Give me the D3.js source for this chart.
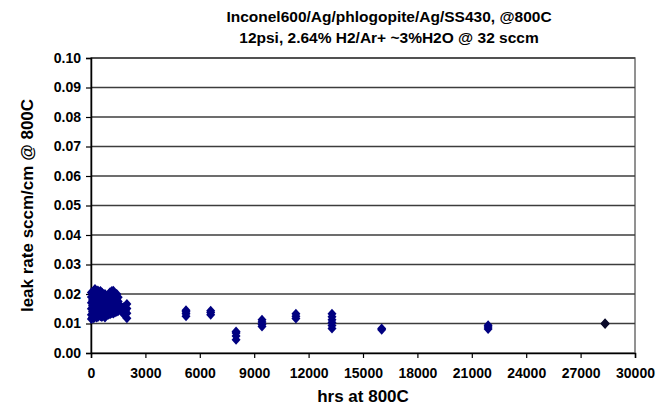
<!DOCTYPE html>
<html>
<head>
<meta charset="utf-8">
<script src="https://cdn.jsdelivr.net/npm/d3@7"></script>
<style>
  body { margin: 0; background: #fff; }
  text { font-family: "Liberation Sans", Arial, sans-serif; font-weight: bold; }
</style>
</head>
<body>
<div id="chart"></div>
<script>
// hours at 800C and leak rate readings (sccm/cm)
var hrsEarly = [20,20,20,20,20,20, 80,80,80,80,80, 150,150,150,150,150,150, 220,220,220,220,220,
  300,300,300,300,300, 380,380,380,380,380,380, 450,450,450,450, 520,520,520,520,520,
  600,600,600,600,600, 680,680,680,680, 770,770,770,770,770, 860,860,860,860, 950,950,950,950,
  1050,1050,1050,1050,1050, 1150,1150,1150,1150,1150, 1230,1230,1230,1230,1230, 1320,1320,1320,1320,
  1420,1420,1420,1420, 1500,1500,1500,1500, 1600,1600, 1700,1700, 1800,1800,1800, 1900,1900,
  1980,1980,1980,1980];
var rateEarly = [0.0115,0.013,0.015,0.017,0.019,0.0205, 0.012,0.014,0.016,0.018,0.020,
  0.0118,0.0135,0.0155,0.0175,0.0195,0.021, 0.0125,0.0145,0.0165,0.0185,0.0217,
  0.012,0.014,0.016,0.018,0.0205, 0.0122,0.0138,0.0158,0.0178,0.0198,0.0212, 0.013,0.015,0.017,0.019,
  0.0125,0.0145,0.0168,0.0188,0.021, 0.0122,0.014,0.016,0.0182,0.0205, 0.013,0.015,0.017,0.0195,
  0.012,0.014,0.016,0.018,0.020, 0.0128,0.0148,0.0168,0.0185, 0.013,0.015,0.017,0.019,
  0.0131,0.015,0.017,0.019,0.0206, 0.0135,0.0155,0.0175,0.0195,0.021, 0.0134,0.0152,0.017,0.019,0.0211,
  0.0137,0.0157,0.0178,0.0198, 0.014,0.016,0.018,0.020, 0.0142,0.016,0.0175,0.0189, 0.0148,0.016,
  0.0148,0.0155, 0.0131,0.0142,0.0155, 0.0131,0.0143, 0.0118,0.0135,0.0151,0.0166];

var hrsLater = [5240,5240,5240,5240, 6600,6600,6600, 8000,8000,8000,8000, 9430,9430,9430,9430,
  11300,11300,11300, 13290,13290,13290,13290,13290,13290, 16030,16030, 21900,21900,21900];
var rateLater = [0.0125,0.0133,0.014,0.0145, 0.013,0.0137,0.0143, 0.0045,0.0058,0.0068,0.0073,
  0.009,0.0097,0.0105,0.0113, 0.0117,0.0125,0.0133, 0.0083,0.0093,0.0103,0.0113,0.0123,0.0133,
  0.0079,0.0083, 0.0081,0.0088,0.0094];

var hrsLast = [28350, 28350];
var rateLast = [0.0098, 0.0101];

var xTicks = d3.range(0, 30001, 3000);
var yTicks = d3.range(0, 0.1001, 0.01);

var margin = {top: 58, right: 24, bottom: 53, left: 91};
var width = 659 - margin.left - margin.right;
var height = 406 - margin.top - margin.bottom;

var svg = d3.select("#chart").append("svg")
  .attr("width", 659).attr("height", 406);

var g = svg.append("g")
  .attr("transform", "translate(" + margin.left + "," + margin.top + ")");

var x = d3.scaleLinear().domain([0, 30000]).range([0, width]);
var y = d3.scaleLinear().domain([0, 0.1]).range([height, 0]);

//plot area border
g.append("rect")
  .attr("width", width).attr("height", height)
  .attr("fill", "#fff").attr("stroke", "#6e6e6e").attr("stroke-width", 1.5);

//gridlines
g.append("g").selectAll("line")
  .data(yTicks.slice(1))
  .enter().append("line")
  .attr("x1", 0).attr("x2", width)
  .attr("y1", function(d){ return y(d); })
  .attr("y2", function(d){ return y(d); })
  .attr("stroke", "#3c3c3c").attr("stroke-width", 1.5);

//axes
var xAxis = g.append("g")
  .attr("transform", "translate(0," + height + ")")
  .call(d3.axisBottom(x).tickValues(xTicks).tickSize(5).tickPadding(10).tickFormat(d3.format("d")));
var yAxis = g.append("g")
  .call(d3.axisLeft(y).tickValues(yTicks).tickSize(5).tickPadding(5).tickFormat(d3.format(".2f")));

[xAxis, yAxis].forEach(function(a){
  a.select(".domain").attr("stroke", "#000").attr("stroke-width", 1.5);
  a.selectAll(".tick line").attr("stroke", "#000").attr("stroke-width", 1.2);
  a.selectAll("text").attr("fill", "#000")
    .style("font-size", "14px").style("font-family", "'Liberation Sans', Arial, sans-serif").style("font-weight", "bold");
});

//diamond marker
function diamond(cx, cy) {
  return "M" + cx + "," + (cy - 5) + "L" + (cx + 4.5) + "," + cy +
    "L" + cx + "," + (cy + 5) + "L" + (cx - 4.5) + "," + cy + "Z";
}

var series = [
  {hrs: hrsEarly, rate: rateEarly, color: "#000080"},
  {hrs: hrsLater, rate: rateLater, color: "#000080"},
  {hrs: hrsLast, rate: rateLast, color: "#0a0a2a"}
];

series.forEach(function(s){
  g.append("g").selectAll("path")
    .data(s.hrs.map(function(h, i){ return [h, s.rate[i]]; }))
    .enter().append("path")
    .attr("d", function(d){ return diamond(x(d[0]), y(d[1])); })
    .attr("fill", s.color);
});

//titles
svg.append("text")
  .attr("x", 389).attr("y", 22)
  .attr("text-anchor", "middle")
  .style("font-size", "15.5px")
  .text("Inconel600/Ag/phlogopite/Ag/SS430, @800C");
svg.append("text")
  .attr("x", 389).attr("y", 43)
  .attr("text-anchor", "middle")
  .style("font-size", "15.5px")
  .text("12psi, 2.64% H2/Ar+ ~3%H2O @ 32 sccm");

svg.append("text")
  .attr("x", margin.left + width / 2).attr("y", 402)
  .attr("text-anchor", "middle")
  .style("font-size", "17px")
  .text("hrs at 800C");

svg.append("text")
  .attr("transform", "translate(33," + (margin.top + height / 2) + ") rotate(-90)")
  .attr("text-anchor", "middle")
  .style("font-size", "17px")
  .text("leak rate sccm/cm @ 800C");
</script>
</body>
</html>
